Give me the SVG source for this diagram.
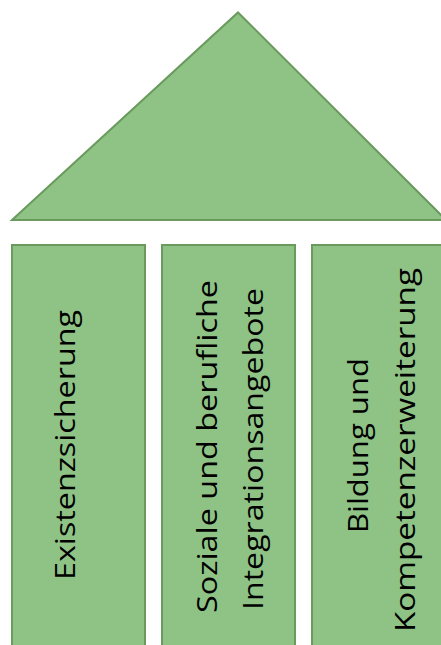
<svg xmlns="http://www.w3.org/2000/svg" width="441" height="645" viewBox="0 0 441 645">
<style>
.shape{fill:#8FC386;stroke:#6A9A5D;stroke-width:2}
.lbl{font-family:"Open Sans","Liberation Sans",sans-serif;font-size:28px;fill:#000;text-anchor:middle}
</style>
<rect width="441" height="645" fill="#ffffff"/>
<g id="roof"><polygon class="shape" points="12,220 238,12.5 446,220"/></g>
<g id="pillar1">
<rect class="shape" x="12" y="245" width="133" height="420"/>
<text class="lbl" transform="translate(75,445) rotate(-90)" textLength="270" lengthAdjust="spacingAndGlyphs">Existenzsicherung</text>
</g>
<g id="pillar2">
<rect class="shape" x="162" y="245" width="133" height="420"/>
<text class="lbl" transform="translate(217,446.5) rotate(-90)" textLength="333" lengthAdjust="spacingAndGlyphs">Soziale und berufliche</text>
<text class="lbl" transform="translate(263,449) rotate(-90)" textLength="322" lengthAdjust="spacingAndGlyphs">Integrationsangebote</text>
</g>
<g id="pillar3">
<rect class="shape" x="312" y="245" width="140" height="420"/>
<text class="lbl" transform="translate(368,445.5) rotate(-90)" textLength="175" lengthAdjust="spacingAndGlyphs">Bildung und</text>
<text class="lbl" transform="translate(415,450) rotate(-90)" textLength="364" lengthAdjust="spacingAndGlyphs">Kompetenzerweiterung</text>
</g>
<g id="connectors"/>
</svg>
